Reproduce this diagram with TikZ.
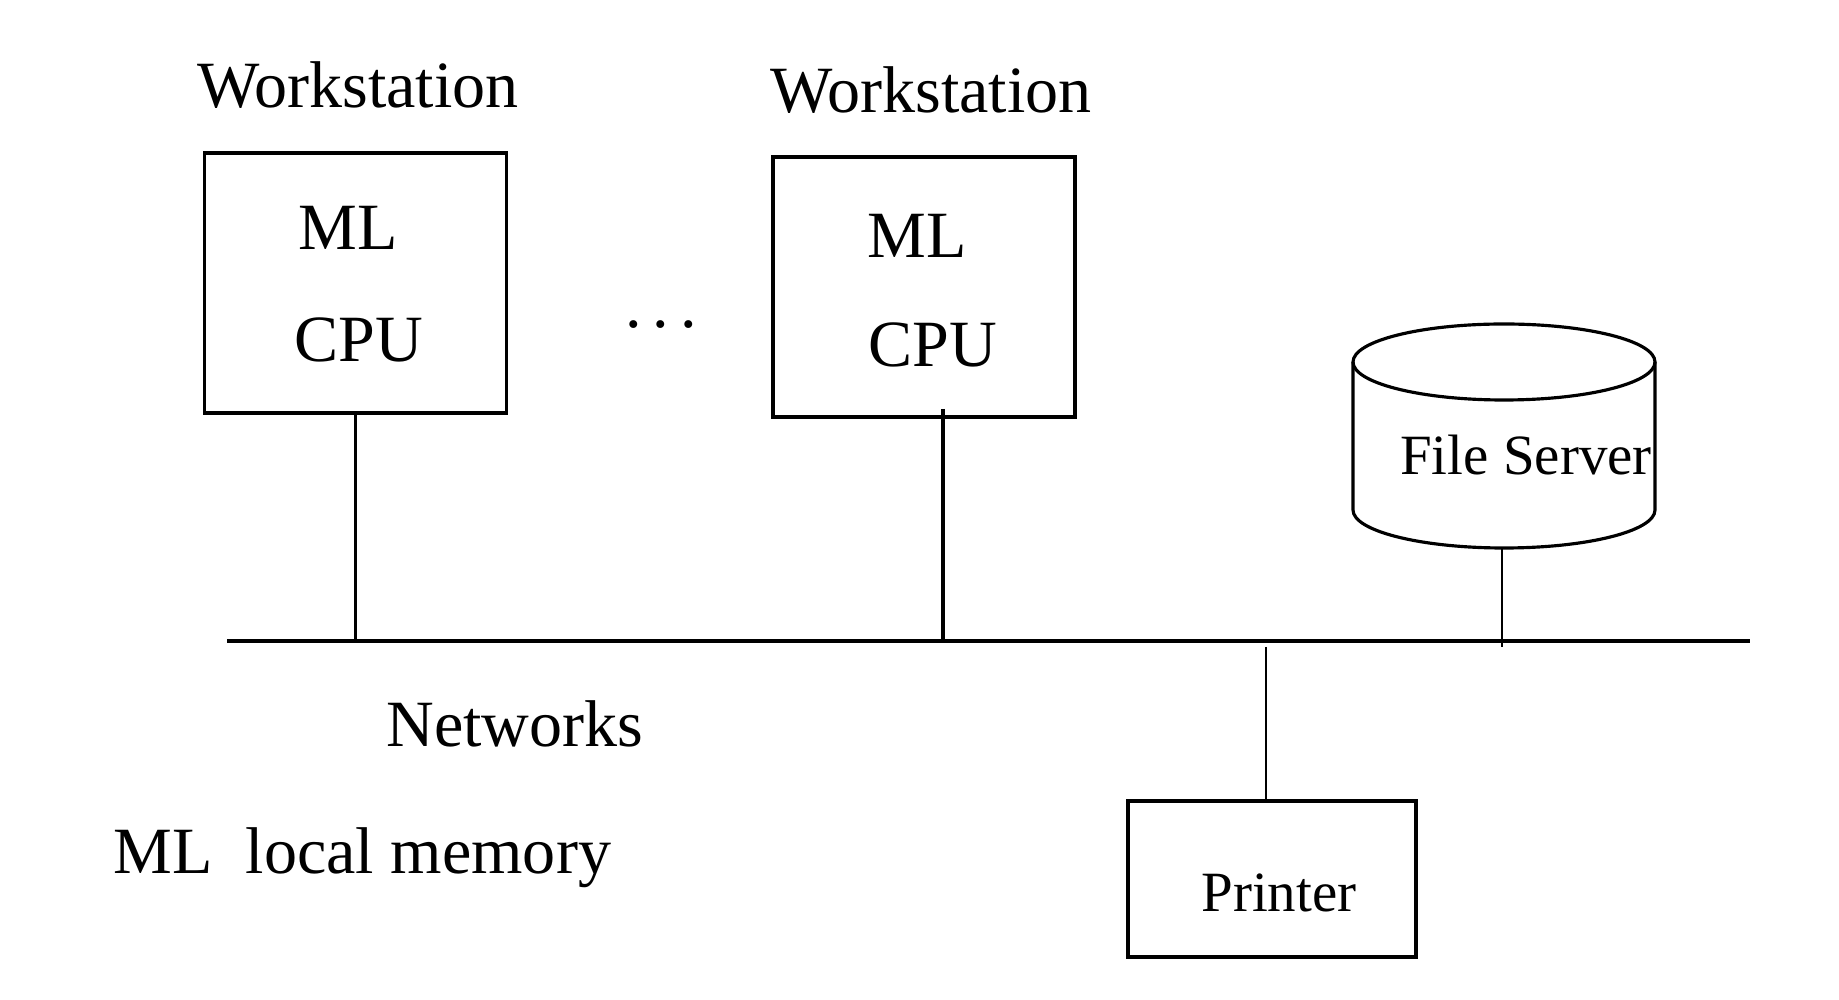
\documentclass[tikz,border=0pt]{standalone}
\usepackage{fontspec}
\setmainfont{Liberation Serif}
\usetikzlibrary{positioning}

\begin{document}
\begin{tikzpicture}[
        txt/.style={anchor=base, inner sep=0pt, font=\fontsize{18.8}{22}\selectfont},
        small/.style={anchor=base, inner sep=0pt, font=\fontsize{16.2}{19}\selectfont},
        wsbox/.style={draw, line width=1.1pt, inner sep=0pt, minimum width=3.02cm, minimum height=2.6cm},
        link/.style={line width=1pt}
    ]
        \useasboundingbox (0,0) rectangle (18.39,-10);
        % Workstations
        \node (ws1) at (3.58, -1.08) [txt] {Workstation};
        \node (box1) at (3.555, -2.83) [wsbox] {};
        \node (ml1) at (3.48, -2.50) [txt] {ML};
        \node (cpu1) at (3.59, -3.62) [txt] {CPU};
        \node (dots) at (6.61, -3.28) [txt] {.\hspace{0.11cm}.\hspace{0.11cm}.};
        \node (ws2) at (9.31, -1.13) [txt] {Workstation};
        \node (box2) at (9.24, -2.87) [wsbox] {};
        \node (ml2) at (9.17, -2.58) [txt] {ML};
        \node (cpu2) at (9.33, -3.67) [txt] {CPU};
        % File server
        \draw[line width=0.9pt] (15.04, -3.62) ellipse (1.51 and 0.38);
        \draw[line width=0.9pt] (13.53, -3.62) -- (13.53, -5.10)
            arc[start angle=180, end angle=360, x radius=1.51, y radius=0.38] -- (16.55, -3.62);
        \node (fs) at (15.26, -4.75) [small] {File Server};
        \coordinate (fsbot) at (15.02, -5.48);
        % Network
        \coordinate (busL) at (2.27, -6.41);
        \coordinate (busR) at (17.50, -6.41);
        \node (net) at (5.15, -7.47) [txt] {Networks};
        \node (ml) at (1.13, -8.73) [txt, anchor=base west] {ML\ \ local memory};
        % Printer
        \node (pr) at (12.72, -8.79) [draw, line width=0.9pt, inner sep=0pt, minimum width=2.88cm, minimum height=1.56cm] {};
        \node (prt) at (12.79, -9.12) [small] {Printer};
        % Edges
        \draw[line width=1.1pt] (busL) -- (busR);
        \draw[link] (box1.south) -- (box1.south |- busL);
        \draw[link] ([xshift=1.9mm, yshift=1mm]box2.south) -- ([xshift=1.9mm]box2.south |- busL);
        \draw[line width=0.6pt] (fsbot) -- ([yshift=-0.6mm]fsbot |- busL);
        \draw[line width=0.7pt] ([xshift=-0.6mm, yshift=-0.6mm]pr.north |- busL) -- ([xshift=-0.6mm]pr.north);
    \end{tikzpicture}
\end{document}
